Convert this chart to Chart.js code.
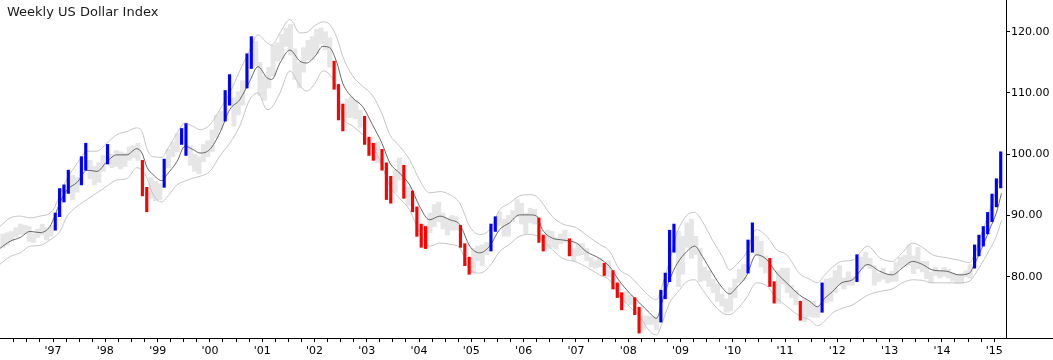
<!DOCTYPE html>
<html>
<head>
<meta charset="utf-8">
<script src="https://cdn.jsdelivr.net/npm/chart.js@4.4.0/dist/chart.umd.min.js"></script>
<style>
    body { margin: 0; background: #fff; }
    #wrap { position: relative; width: 1053px; height: 360px; }
    #title { position: absolute; left: 7px; top: 4px; font: 13px "DejaVu Sans", sans-serif; color: #1a1a1a; }
</style>
</head>
<body>
<div id="wrap">
    <canvas id="dollarChart"></canvas>
    <div id="title">Weekly US Dollar Index</div>
</div>
<script>
// monthly bars, first month is Jan 1996
const firstYear = 1996;

const highs = [
    87.0, 87.2, 87.4, 88.0, 88.6, 88.4, 88.2, 87.0, 87.8, 88.6, 88.0, 88.4,          // 1996
    90.4, 94.4, 95.0, 97.4, 96.6, 96.2, 99.6, 101.8, 99.0, 98.0, 98.6, 99.8,         // 1997
    101.6, 100.0, 100.6, 100.4, 100.2, 101.2, 101.4, 101.8, 99.0, 94.6, 96.2, 95.6,  // 1998
    95.2, 99.2, 100.8, 102.0, 103.4, 104.2, 105.0, 101.4, 100.0, 99.6, 101.6, 102.2, // 1999
    104.0, 106.4, 107.0, 110.4, 113.0, 109.2, 110.2, 112.0, 116.4, 119.2, 118.4, 115.0, // 2000
    112.8, 114.2, 117.8, 118.2, 119.6, 120.6, 121.2, 117.2, 115.0, 117.4, 118.6, 119.2, // 2001
    120.4, 120.6, 120.0, 119.0, 115.2, 111.4, 108.2, 109.0, 109.4, 108.8, 107.2, 106.2, // 2002
    102.8, 101.8, 102.0, 100.8, 98.6, 96.4, 97.4, 99.4, 98.2, 94.6, 94.0, 91.4,      // 2003
    88.6, 88.2, 90.4, 91.8, 92.2, 90.4, 89.6, 90.0, 89.8, 88.4, 85.4, 83.2,          // 2004
    84.6, 85.0, 85.2, 85.6, 88.6, 89.8, 90.6, 89.4, 90.0, 90.8, 92.6, 92.0,          // 2005
    90.4, 91.2, 91.0, 89.6, 86.8, 87.6, 87.4, 86.4, 87.0, 87.6, 86.2, 84.6,          // 2006
    85.4, 85.4, 84.6, 83.2, 82.6, 83.0, 82.2, 82.6, 81.0, 79.0, 77.4, 77.6,          // 2007
    77.0, 76.6, 75.0, 73.6, 73.6, 73.6, 73.4, 77.8, 80.6, 87.6, 88.6, 87.4,          // 2008
    86.6, 88.8, 89.4, 86.6, 84.6, 81.6, 81.0, 79.6, 78.8, 77.2, 76.4, 78.2,          // 2009
    79.6, 81.2, 82.0, 86.0, 88.8, 86.6, 85.8, 83.4, 83.0, 79.2, 81.0, 81.4,          // 2010
    81.4, 78.6, 77.8, 76.0, 76.4, 76.0, 76.0, 75.2, 79.0, 79.6, 79.8, 81.0,          // 2011
    81.8, 79.8, 80.8, 80.0, 83.6, 83.2, 84.0, 83.0, 81.8, 80.6, 81.4, 80.4,          // 2012
    80.9, 82.4, 83.2, 83.5, 85.2, 83.4, 84.8, 82.5, 82.5, 80.8, 81.5, 81.0,          // 2013
    81.5, 81.2, 80.6, 80.4, 80.5, 81.0, 82.0, 85.2, 86.8, 88.2, 90.5, 93.5,          // 2014
    96.0, 100.4                                                                      // 2015
];

const lows = [
    84.8, 85.2, 85.8, 86.5, 86.9, 87.0, 85.8, 85.6, 86.4, 86.8, 86.0, 86.6,
    87.6, 89.8, 92.2, 93.6, 92.6, 93.8, 95.0, 97.4, 96.0, 95.0, 95.4, 97.2,
    98.4, 97.8, 98.0, 97.6, 98.0, 99.0, 99.4, 99.0, 93.2, 90.6, 92.8, 92.4,
    92.6, 94.6, 97.8, 99.6, 100.4, 101.6, 99.8, 98.2, 97.2, 96.8, 98.8, 99.6,
    100.4, 102.6, 104.0, 105.4, 108.0, 104.6, 106.4, 108.0, 110.8, 114.0, 114.4, 109.6,
    108.8, 110.8, 112.8, 115.2, 115.6, 117.6, 116.2, 112.2, 110.8, 113.4, 115.4, 115.4,
    116.4, 118.0, 117.0, 114.2, 110.6, 105.6, 103.8, 106.0, 106.0, 105.8, 104.4, 101.6,
    99.8, 99.0, 98.6, 97.4, 92.6, 92.0, 93.8, 95.8, 92.8, 91.6, 90.6, 86.6,
    84.8, 84.6, 87.2, 88.2, 89.0, 87.8, 86.8, 87.6, 87.6, 84.8, 81.8, 80.4,
    80.6, 82.6, 81.8, 83.6, 84.2, 87.4, 88.4, 86.6, 86.6, 89.0, 89.8, 88.6,
    87.0, 88.8, 88.6, 85.6, 84.2, 84.6, 84.8, 84.6, 85.4, 85.6, 83.4, 82.6,
    83.4, 83.6, 82.6, 81.6, 81.4, 81.6, 80.2, 80.0, 78.0, 76.6, 74.6, 75.8,
    75.4, 73.8, 70.8, 71.4, 72.2, 72.2, 71.4, 72.6, 76.4, 79.2, 84.0, 78.4,
    80.4, 84.8, 83.0, 83.6, 79.2, 79.4, 78.4, 77.4, 76.0, 75.2, 74.2, 74.4,
    76.6, 79.0, 79.4, 80.6, 84.0, 83.4, 81.6, 80.6, 78.4, 75.7, 75.6, 78.8,
    77.4, 76.6, 75.4, 72.9, 72.7, 73.5, 73.4, 73.4, 74.2, 75.8, 76.0, 77.4,
    78.6, 78.0, 78.6, 78.6, 79.2, 81.2, 81.8, 81.3, 78.6, 79.2, 79.6, 79.0,
    79.2, 79.3, 81.5, 81.7, 81.8, 80.5, 81.3, 80.8, 79.7, 79.0, 80.2, 79.8,
    80.1, 79.8, 79.3, 78.9, 78.9, 80.0, 79.8, 81.4, 83.4, 85.0, 87.0, 89.0,
    91.4, 94.5
];

// g = plain bar, b = blue (upside), r = red (downside)
const signals = [
    'gggggggggggg', 'bbbbggbbgggg', 'bgggggggrrgg', 'gbgggbbggggg', 'gggbbgggbbgg',
    'gggggggggggg', 'ggggrrrggggr', 'rrgrrrggrgrr', 'rrgggggggrrr', 'ggggbbgggggg',
    'gggrrgggggrg', 'ggggggrgrrrg', 'grrggggbbbbg', 'gggggggggggg', 'gggbbgggrrgg',
    'gggrggggbggg', 'ggggbggggggg', 'gggggggggggg', 'gggggggbbbbb', 'bb'
].join('');

// channel lines, sampled along the chart (decimal years)
const bandDates = [
    1995.98, 1996.18, 1996.37, 1996.56, 1996.75, 1996.94, 1997.04, 1997.13, 1997.27, 1997.46,
    1997.65, 1997.84, 1998.03, 1998.22, 1998.41, 1998.60, 1998.70, 1998.80, 1998.91, 1999.08,
    1999.18, 1999.37, 1999.52, 1999.67, 1999.81, 2000.00, 2000.19, 2000.38, 2000.57, 2000.76,
    2000.92, 2001.09, 2001.18, 2001.34, 2001.53, 2001.72, 2001.85, 2002.01, 2002.16, 2002.29,
    2002.43, 2002.54, 2002.73, 2002.92, 2003.11, 2003.29, 2003.44, 2003.63, 2003.82, 2004.01,
    2004.20, 2004.40, 2004.59, 2004.78, 2004.97, 2005.16, 2005.35, 2005.54, 2005.73, 2005.92,
    2006.12, 2006.25, 2006.36, 2006.55, 2006.75, 2007.01, 2007.20, 2007.45, 2007.64, 2007.84,
    2008.03, 2008.22, 2008.41, 2008.54, 2008.66, 2008.79, 2008.94, 2009.12, 2009.27, 2009.42,
    2009.61, 2009.80, 2009.94, 2010.07, 2010.26, 2010.45, 2010.65, 2010.84, 2011.03, 2011.28,
    2011.47, 2011.62, 2011.75, 2011.91, 2012.08, 2012.29, 2012.58, 2012.81, 2013.05, 2013.24,
    2013.44, 2013.63, 2013.82, 2014.09, 2014.33, 2014.53, 2014.62, 2014.75, 2014.91, 2015.04,
    2015.14
];

const midLine = [
    84.6, 85.8, 86.4, 87.4, 87.2, 88.2, 90.1, 92.1, 94.2, 95.4,
    97.4, 97.2, 98.8, 99.9, 99.9, 100.9, 100.2, 97.8, 96.7, 95.7,
    96.7, 98.8, 101.3, 100.8, 100.2, 100.8, 103.5, 107.3, 108.9, 111.9,
    114.3, 112.5, 112.2, 114.9, 117.0, 115.2, 114.9, 116.0, 117.6, 117.4,
    114.9, 111.6, 109.2, 107.8, 104.8, 101.8, 98.6, 96.9, 95.0, 91.5,
    89.3, 89.9, 89.3, 88.5, 85.0, 83.9, 85.0, 87.7, 88.8, 90.1,
    90.1, 89.9, 87.7, 86.3, 86.0, 85.5, 84.1, 83.0, 81.7, 79.2,
    77.3, 75.7, 74.1, 73.2, 76.2, 79.5, 82.2, 84.1, 85.0, 83.3,
    80.6, 78.2, 77.2, 78.2, 80.1, 83.6, 82.8, 80.6, 79.0, 77.0,
    76.0, 75.1, 76.4, 77.6, 79.0, 79.5, 82.0, 80.9, 80.3, 81.4,
    82.5, 82.0, 81.1, 80.9, 80.3, 80.6, 82.0, 84.4, 87.7, 90.4,
    93.6
];

const upperBand = [
    88.2, 89.6, 89.9, 89.6, 89.9, 90.4, 91.5, 93.5, 96.0, 98.5,
    100.5, 100.5, 101.8, 103.2, 103.7, 104.3, 103.7, 100.8, 99.6, 99.5,
    100.7, 103.4, 105.1, 104.6, 104.0, 104.8, 107.3, 110.0, 113.6, 117.0,
    119.5, 118.2, 117.8, 119.8, 122.0, 119.8, 119.9, 121.0, 121.6, 121.2,
    119.0, 116.0, 112.8, 111.1, 109.6, 106.6, 103.2, 101.3, 99.1, 95.8,
    93.7, 93.9, 93.4, 92.0, 88.2, 86.9, 87.7, 90.9, 92.0, 93.2,
    93.4, 93.1, 92.0, 89.8, 88.6, 88.0, 86.8, 85.3, 84.2, 81.1,
    80.1, 78.4, 76.8, 76.2, 78.8, 82.6, 87.3, 90.0, 90.5, 89.0,
    86.0, 83.3, 81.1, 82.0, 83.9, 87.7, 86.6, 84.4, 83.6, 80.5,
    79.6, 79.0, 80.2, 81.6, 82.5, 82.7, 85.0, 83.1, 82.5, 83.9,
    85.5, 84.8, 83.6, 83.1, 82.7, 82.3, 83.6, 86.8, 90.8, 94.2,
    97.2
];

const lowerBand = [
    82.0, 83.3, 83.9, 85.0, 85.1, 86.0, 86.6, 87.4, 89.9, 91.5,
    92.6, 93.7, 94.8, 95.8, 96.0, 97.8, 97.4, 96.0, 93.5, 92.2,
    93.0, 95.0, 95.6, 96.1, 96.4, 97.2, 99.7, 101.8, 104.6, 108.9,
    110.0, 107.3, 107.6, 110.0, 113.6, 111.2, 110.3, 111.6, 113.6, 113.0,
    110.6, 106.2, 104.6, 103.2, 101.3, 98.2, 94.8, 92.8, 90.9, 87.2,
    85.0, 85.5, 85.3, 84.7, 81.1, 80.6, 81.7, 84.1, 85.3, 86.6,
    86.9, 86.7, 86.0, 84.4, 83.0, 82.4, 81.6, 80.3, 79.5, 76.8,
    75.1, 73.5, 71.1, 70.5, 72.7, 75.7, 77.4, 79.2, 79.5, 77.9,
    75.7, 74.1, 73.8, 74.6, 76.5, 79.0, 78.5, 76.5, 75.2, 73.6,
    73.0, 72.0, 72.7, 74.1, 74.8, 75.4, 77.0, 77.6, 78.0, 79.0,
    79.5, 79.4, 79.0, 79.0, 79.0, 79.3, 80.2, 82.0, 84.4, 86.6,
    89.2
];

const yTicks = [80, 90, 100, 110, 120];
const xMin = 1995.985, xMax = 2015.226;
const yMin = 70, yMax = 125.18;

// quarterly tick marks, labels only on the years
const quarterTicks = [];
for (let q = 1996.25; q < xMax; q += 0.25) quarterTicks.push(q);

const greyBars = [];
const signalBars = [];
highs.forEach((h, i) => {
    const bar = { x: firstYear + (i + 0.5) / 12, y: [lows[i], h], s: signals[i] };
    if (bar.s === 'g') greyBars.push(bar);
    else signalBars.push(bar);
});

const toPoints = values => bandDates.map((d, i) => ({ x: d, y: values[i] }));

const axisFont = { family: 'DejaVu Sans', size: 11 };

// bottom axis line runs on under the price scale
const axisExtension = {
    id: 'axisExtension',
    afterDraw(chart) {
        const { ctx, chartArea } = chart;
        ctx.save();
        ctx.strokeStyle = '#000';
        ctx.lineWidth = 1;
        ctx.beginPath();
        ctx.moveTo(chartArea.right, Math.round(chartArea.bottom) + 0.5);
        ctx.lineTo(chart.width, Math.round(chartArea.bottom) + 0.5);
        ctx.stroke();
        ctx.restore();
    }
};

const ctx = document.getElementById('dollarChart').getContext('2d');
new Chart(ctx, {
    type: 'bar',
    data: {
        datasets: [
            {
                type: 'bar',
                data: greyBars,
                backgroundColor: '#e6e6e6',
                barThickness: 4.4,
                grouped: false,
                order: 3
            },
            {
                type: 'line',
                data: toPoints(upperBand),
                borderColor: '#c4c4c4',
                borderWidth: 1,
                pointRadius: 0,
                cubicInterpolationMode: 'monotone',
                order: 2
            },
            {
                type: 'line',
                data: toPoints(lowerBand),
                borderColor: '#c4c4c4',
                borderWidth: 1,
                pointRadius: 0,
                cubicInterpolationMode: 'monotone',
                order: 2
            },
            {
                type: 'line',
                data: toPoints(midLine),
                borderColor: '#666666',
                borderWidth: 1,
                pointRadius: 0,
                cubicInterpolationMode: 'monotone',
                order: 2
            },
            {
                type: 'bar',
                data: signalBars,
                backgroundColor: c => (c.raw && c.raw.s === 'b') ? '#0000ff' : '#ff0000',
                barThickness: 2.5,
                grouped: false,
                order: 1
            }
        ]
    },
    options: {
        responsive: true,
        maintainAspectRatio: false,
        animation: false,
        layout: { padding: 0 },
        plugins: {
            legend: { display: false },
            tooltip: { enabled: false }
        },
        scales: {
            x: {
                type: 'linear',
                min: xMin,
                max: xMax,
                offset: false,
                grid: { drawOnChartArea: false, drawTicks: true, tickLength: 4, color: '#000', offset: false },
                border: { display: true, color: '#000' },
                ticks: {
                    font: axisFont,
                    color: '#000',
                    padding: 3,
                    maxRotation: 0,
                    autoSkip: false,
                    callback: v => Number.isInteger(v) && v > 1996 ? "'" + String(v).slice(2) : ''
                },
                afterBuildTicks: s => { s.ticks = quarterTicks.map(v => ({ value: v })); },
                afterFit: s => { s.height = 22; s.paddingLeft = 0; s.paddingRight = 0; }
            },
            y: {
                position: 'right',
                min: yMin,
                max: yMax,
                grid: { drawOnChartArea: false, drawTicks: true, tickLength: 4, color: '#000' },
                border: { display: true, color: '#000' },
                ticks: {
                    font: axisFont,
                    color: '#000',
                    padding: 1,
                    callback: v => v.toFixed(2)
                },
                afterBuildTicks: s => { s.ticks = yTicks.map(v => ({ value: v })); },
                afterFit: s => { s.width = 47; s.paddingTop = 0; s.paddingBottom = 0; }
            }
        }
    },
    plugins: [axisExtension]
});
</script>
</body>
</html>
